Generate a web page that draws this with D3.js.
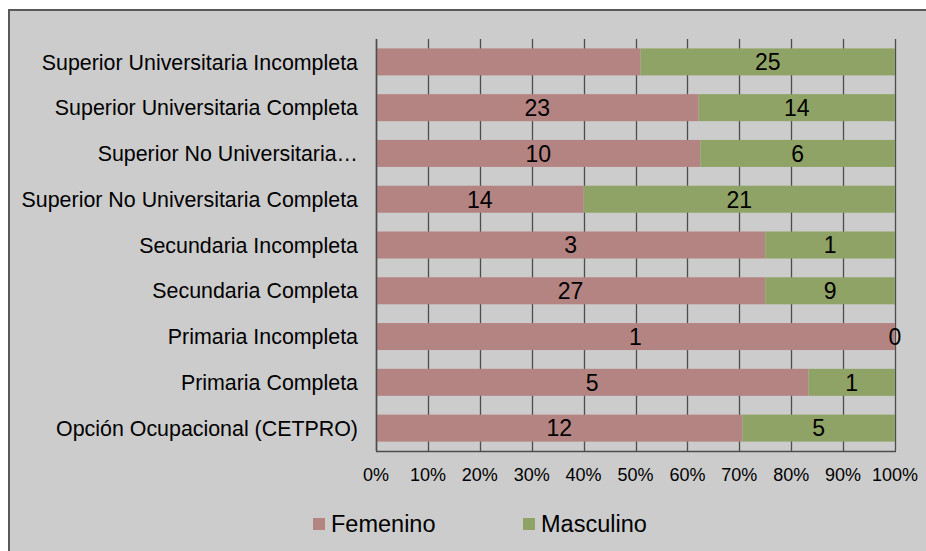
<!DOCTYPE html>
<meta charset="utf-8">
<script src="https://d3js.org/d3.v7.min.js"></script>
<style>
  body { margin: 0; background: #fff; }
  text { font-family: "Liberation Sans", Arial, sans-serif; }
</style>
<div class="chart"></div>
<script>
    // categories top to bottom
    var categories = [
        "Superior Universitaria Incompleta",
        "Superior Universitaria Completa",
        "Superior No Universitaria Incompleta",
        "Superior No Universitaria Completa",
        "Secundaria Incompleta",
        "Secundaria Completa",
        "Primaria Incompleta",
        "Primaria Completa",
        "Opción Ocupacional (CETPRO)"
    ];
    var shownNames = [
        "Superior Universitaria Incompleta",
        "Superior Universitaria Completa",
        "Superior No Universitaria…",
        "Superior No Universitaria Completa",
        "Secundaria Incompleta",
        "Secundaria Completa",
        "Primaria Incompleta",
        "Primaria Completa",
        "Opción Ocupacional (CETPRO)"
    ];
    var femenino = [26, 23, 10, 14, 3, 27, 1, 5, 12];
    var masculino = [25, 14, 6, 21, 1, 9, 0, 1, 5];
    // the first femenino label is not printed in the original
    var femLabelShown = [false, true, true, true, true, true, true, true, true];
    var seriesNames = ["Femenino", "Masculino"];
    var tickValues = [0, 0.1, 0.2, 0.3, 0.4, 0.5, 0.6, 0.7, 0.8, 0.9, 1];

    var colors = { Femenino: "#b48482", Masculino: "#8fa366" };

    var width = 926, height = 551;
    var plot = { left: 376, right: 895, top: 39, bottom: 451 };

    var svg = d3.select(".chart").append("svg")
        .attr("width", width)
        .attr("height", height);

    // outer frame
    svg.append("rect")
        .attr("x", 9)
        .attr("y", 10)
        .attr("width", 940)
        .attr("height", 560)
        .attr("fill", "#cccccc")
        .attr("stroke", "#595959")
        .attr("stroke-width", 2);

    var xScale = d3.scaleLinear()
        .domain([0, 1])
        .range([plot.left, plot.right]);

    var yScale = d3.scaleBand()
        .domain(categories)
        .range([plot.top, plot.bottom])
        .paddingInner(0.41)
        .paddingOuter(0.205);

    // vertical gridlines
    svg.append("g")
        .selectAll("line")
        .data(tickValues)
        .enter()
        .append("line")
        .attr("x1", function(d) { return Math.round(xScale(d)) + 0.5; })
        .attr("x2", function(d) { return Math.round(xScale(d)) + 0.5; })
        .attr("y1", plot.top)
        .attr("y2", plot.bottom)
        .attr("stroke", "#4d4d4d")
        .attr("stroke-width", 1.3);

    var rows = categories.map(function(c, i) {
        var total = femenino[i] + masculino[i];
        return {
            name: c,
            label: shownNames[i],
            fem: femenino[i],
            mas: masculino[i],
            femShare: femenino[i] / total,
            showFem: femLabelShown[i]
        };
    });

    var bars = svg.append("g");

    bars.selectAll(".fem")
        .data(rows)
        .enter()
        .append("rect")
        .attr("class", "fem")
        .attr("x", xScale(0))
        .attr("y", function(d) { return yScale(d.name); })
        .attr("height", yScale.bandwidth())
        .attr("width", function(d) { return xScale(d.femShare) - xScale(0); })
        .attr("fill", colors.Femenino);

    bars.selectAll(".mas")
        .data(rows)
        .enter()
        .append("rect")
        .attr("class", "mas")
        .attr("x", function(d) { return xScale(d.femShare); })
        .attr("y", function(d) { return yScale(d.name); })
        .attr("height", yScale.bandwidth())
        .attr("width", function(d) { return xScale(1) - xScale(d.femShare); })
        .attr("fill", colors.Masculino);

    // value labels
    bars.selectAll(".femLabel")
        .data(rows.filter(function(d) { return d.showFem; }))
        .enter()
        .append("text")
        .attr("x", function(d) { return xScale(d.femShare / 2); })
        .attr("y", function(d) { return yScale(d.name) + yScale.bandwidth() / 2; })
        .attr("dy", "0.36em")
        .attr("text-anchor", "middle")
        .attr("font-size", "23px")
        .attr("fill", "#000")
        .text(function(d) { return d.fem; });

    bars.selectAll(".masLabel")
        .data(rows)
        .enter()
        .append("text")
        .attr("x", function(d) { return xScale((d.femShare + 1) / 2); })
        .attr("y", function(d) { return yScale(d.name) + yScale.bandwidth() / 2; })
        .attr("dy", "0.36em")
        .attr("text-anchor", "middle")
        .attr("font-size", "23px")
        .attr("fill", "#000")
        .text(function(d) { return d.mas; });

    // axis lines
    svg.append("line")
        .attr("x1", plot.left + 0.5).attr("x2", plot.left + 0.5)
        .attr("y1", plot.top).attr("y2", plot.bottom)
        .attr("stroke", "#4d4d4d").attr("stroke-width", 1.5);
    svg.append("line")
        .attr("x1", plot.left).attr("x2", plot.right + 1)
        .attr("y1", plot.bottom + 0.5).attr("y2", plot.bottom + 0.5)
        .attr("stroke", "#4d4d4d").attr("stroke-width", 1.5);

    // category labels
    svg.append("g")
        .selectAll("text")
        .data(rows)
        .enter()
        .append("text")
        .attr("x", 358)
        .attr("y", function(d) { return yScale(d.name) + yScale.bandwidth() / 2; })
        .attr("dy", "0.36em")
        .attr("text-anchor", "end")
        .attr("font-size", "21.4px")
        .attr("fill", "#000")
        .text(function(d) { return d.label; });

    // x tick labels
    svg.append("g")
        .selectAll("text")
        .data(tickValues)
        .enter()
        .append("text")
        .attr("x", function(d) { return xScale(d); })
        .attr("y", 481)
        .attr("text-anchor", "middle")
        .attr("font-size", "18px")
        .attr("fill", "#000")
        .text(function(d) { return d3.format(".0%")(d); });

    // legend
    var legendX = [313, 523];
    var legend = svg.append("g")
        .selectAll("g")
        .data(seriesNames)
        .enter()
        .append("g")
        .attr("transform", function(d, i) { return "translate(" + legendX[i] + ",524)"; });

    legend.append("rect")
        .attr("x", 0)
        .attr("y", -6)
        .attr("width", 12)
        .attr("height", 12)
        .attr("fill", function(d) { return colors[d]; });

    legend.append("text")
        .attr("x", 18)
        .attr("y", 0)
        .attr("dy", "0.36em")
        .attr("font-size", "23.5px")
        .attr("fill", "#000")
        .text(function(d) { return d; });
</script>
